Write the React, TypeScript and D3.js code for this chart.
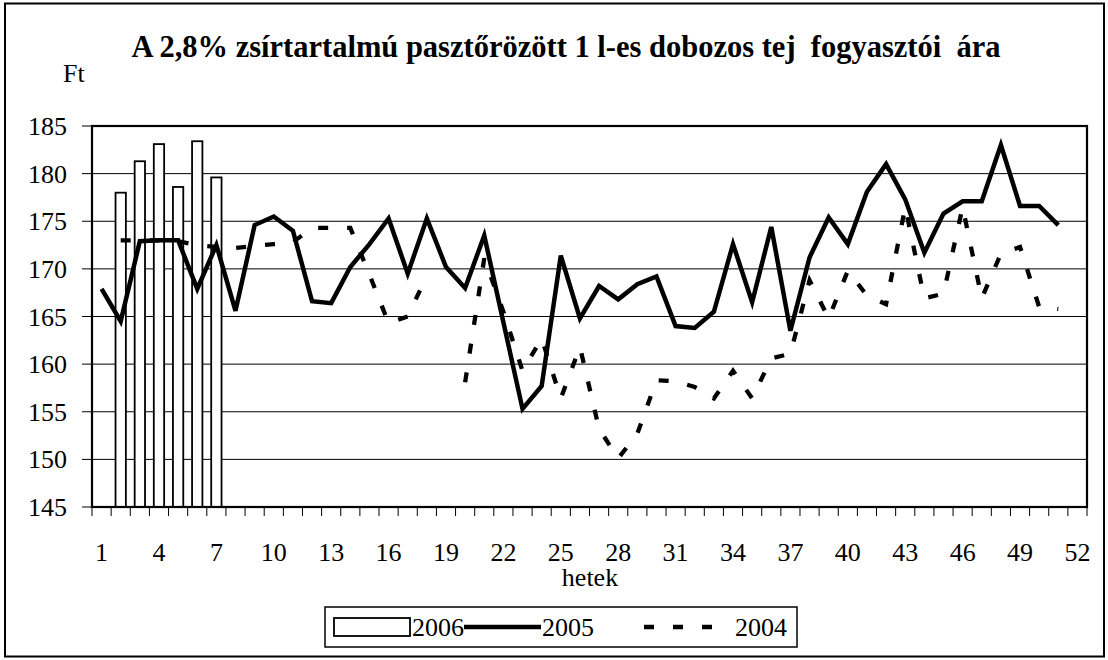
import * as d3 from 'd3';

// weeks of the year (categories)
const weeks = d3.range(1, 53);
const xTickLabels = [1, 4, 7, 10, 13, 16, 19, 22, 25, 28, 31, 34, 37, 40, 43, 46, 49, 52];
const yTicks = [145, 150, 155, 160, 165, 170, 175, 180, 185];

// Ft, weekly consumer price
const prices2006: (number | null)[] = [null, 178.0, 181.3, 183.1, 178.6, 183.4, 179.6];

const prices2005: (number | null)[] = [
  167.9, 164.5, 172.9, 173.0, 173.0, 167.9, 172.5, 165.6, 174.6, 175.5,
  174.0, 166.6, 166.4, 170.2, 172.6, 175.3, 169.5, 175.3, 170.2, 168.0,
  173.5, 164.4, 155.3, 157.7, 171.4, 164.8, 168.2, 166.8, 168.4, 169.2,
  164.0, 163.8, 165.5, 172.6, 166.5, 174.4, 163.5, 171.2, 175.4, 172.6,
  178.1, 181.0, 177.3, 171.7, 175.8, 177.1, 177.1, 183.0, 176.6, 176.6,
  174.6, null,
];

const prices2004: (number | null)[] = [
  null, 173.0, 173.0, 173.0, 172.9, 172.5, 172.3, 172.2, 172.4, 172.6,
  172.8, 174.3, 174.3, 174.3, 169.4, 164.3, 165.0, 169.3, null, 158.1,
  171.1, 165.5, 159.3, 162.7, 156.4, 161.8, 153.2, 150.1, 152.7, 158.3,
  158.2, 157.6, 156.4, 159.3, 156.4, 160.6, 161.1, 168.8, 164.8, 169.8,
  167.2, 166.3, 176.5, 166.9, 167.4, 176.5, 166.9, 171.6, 172.3, 166.0,
  165.8, null,
];

const font = '"Liberation Serif", "Times New Roman", serif';

export default function App() {
  const width = 1108;
  const height = 660;
  const plot = { left: 92, top: 126, right: 1087, bottom: 507 };

  const x = d3.scaleBand<number>()
    .domain(weeks)
    .range([plot.left, plot.right])
    .paddingInner(0.46)
    .paddingOuter(0.23);
  const cx = (w: number) => (x(w) as number) + x.bandwidth() / 2;
  const y = d3.scaleLinear().domain([145, 185]).range([plot.bottom, plot.top]);

  const line = d3.line<number | null>()
    .defined(d => d != null)
    .x((_, i) => cx(weeks[i]))
    .y(d => y(d as number));

  const boundaries = d3.range(weeks.length + 1).map(i => plot.left + i * x.step());

  return (
    <svg width={width} height={height} style={{ position: 'absolute', left: 0, top: 0, background: '#fff' }}
      fontFamily={font}>
      <rect x={5} y={3.5} width={1099} height={653} fill="#fff" stroke="#000" strokeWidth={2} />

      <text x={566} y={57} textAnchor="middle" fontSize={30.5} fontWeight="bold">
        A 2,8% zsírtartalmú pasztőrözött 1 l-es dobozos tej&#160; fogyasztói&#160; ára
      </text>
      <text x={63} y={82} fontSize={26}>Ft</text>

      {/* gridlines + y axis */}
      {yTicks.map(t => (
        <g key={t}>
          <line x1={plot.left} x2={plot.right} y1={y(t)} y2={y(t)} stroke="#000" strokeWidth={1} />
          <line x1={plot.left - 10} x2={plot.left} y1={y(t)} y2={y(t)} stroke="#000" strokeWidth={1} />
          <text x={67} y={y(t)} dy="0.35em" textAnchor="end" fontSize={26}>{t}</text>
        </g>
      ))}

      {/* 2006 bars */}
      {prices2006.map((v, i) => v == null ? null : (
        <rect key={i} x={x(weeks[i])} y={y(v)} width={x.bandwidth()} height={plot.bottom - y(v)}
          fill="#fff" stroke="#000" strokeWidth={1.8} />
      ))}

      <path d={line(prices2005) ?? ''} fill="none" stroke="#000" strokeWidth={4.5} strokeLinejoin="miter" />
      <path d={line(prices2004) ?? ''} fill="none" stroke="#000" strokeWidth={4.3} strokeDasharray="10 19" />

      {/* plot frame */}
      <rect x={plot.left} y={plot.top} width={plot.right - plot.left} height={plot.bottom - plot.top}
        fill="none" stroke="#000" strokeWidth={2.2} />

      {/* x axis ticks */}
      {boundaries.map((bx, i) => (
        <line key={i} x1={bx} x2={bx} y1={plot.bottom} y2={plot.bottom + 9} stroke="#000" strokeWidth={1} />
      ))}
      {xTickLabels.map(w => (
        <text key={w} x={cx(w)} y={561} textAnchor="middle" fontSize={26}>{w}</text>
      ))}
      <text x={590} y={586} textAnchor="middle" fontSize={26}>hetek</text>

      {/* legend */}
      <g>
        <rect x={325} y={607} width={472} height={40} fill="#fff" stroke="#000" strokeWidth={1.5} />
        <rect x={334} y={618} width={76} height={18} fill="#fff" stroke="#000" strokeWidth={1.8} />
        <text x={412} y={636} fontSize={26}>2006</text>
        <line x1={464} x2={541} y1={627} y2={627} stroke="#000" strokeWidth={4.5} />
        <text x={542} y={636} fontSize={26}>2005</text>
        <line x1={644} x2={717} y1={627} y2={627} stroke="#000" strokeWidth={4.3} strokeDasharray="10 19" />
        <text x={735} y={636} fontSize={26}>2004</text>
      </g>
    </svg>
  );
}
